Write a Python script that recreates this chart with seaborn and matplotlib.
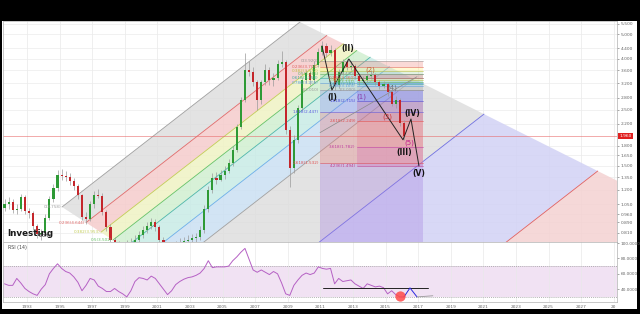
import numpy as np
import pandas as pd
import matplotlib
matplotlib.use("Agg")
import matplotlib.pyplot as plt
import matplotlib.transforms as mtransforms
from matplotlib.patches import Rectangle
from matplotlib.ticker import NullLocator
import seaborn as sns

# ---------------- data ----------------
START_YEAR = 1991.625          # first quarterly candle
PERIOD = 0.25                  # quarterly candles
first_open = 1.02
closes = [1.05, 1.07, 1.00, 1.01, 1.12, 0.99, 0.97, 0.86, 0.80, 0.81,
          0.93, 1.10, 1.22, 1.37, 1.36, 1.35, 1.30, 1.24, 1.14, 0.94,
          0.92, 1.05, 1.15, 1.13, 0.98, 0.85, 0.76, 0.72, 0.70, 0.71,
          0.73, 0.74, 0.76, 0.79, 0.83, 0.86, 0.89, 0.85, 0.76, 0.72,
          0.69, 0.70, 0.72, 0.74, 0.75, 0.76, 0.77, 0.78, 0.83, 1.01,
          1.20, 1.34, 1.32, 1.37, 1.43, 1.54, 1.73, 2.14, 2.74, 3.61,
          3.55, 3.23, 2.74, 3.23, 3.61, 3.29, 3.36, 3.81, 3.88, 2.08,
          1.47, 1.90, 2.55, 3.29, 3.52, 3.29, 3.78, 4.26, 4.50, 4.22,
          4.33, 3.14, 3.55, 3.88, 3.72, 3.75, 3.40, 3.25, 3.29, 3.40,
          3.44, 3.23, 3.11, 3.17, 2.94, 2.64, 2.74, 2.22, 1.96]
highs = [1.10, 1.12, 1.10, 1.05, 1.16, 1.15, 1.02, 0.99, 0.88, 0.84,
         0.96, 1.13, 1.27, 1.44, 1.45, 1.43, 1.40, 1.34, 1.27, 1.16,
         0.98, 1.08, 1.19, 1.21, 1.17, 1.00, 0.88, 0.78, 0.75, 0.74,
         0.76, 0.77, 0.79, 0.82, 0.86, 0.89, 0.93, 0.92, 0.87, 0.78,
         0.74, 0.73, 0.75, 0.77, 0.78, 0.79, 0.80, 0.81, 0.86, 1.04,
         1.24, 1.40, 1.42, 1.44, 1.49, 1.60, 1.79, 2.20, 2.82, 4.20,
         3.90, 3.70, 3.30, 3.30, 3.80, 3.70, 3.50, 3.95, 4.30, 3.95,
         2.15, 1.98, 2.62, 3.38, 3.62, 3.60, 3.90, 4.40, 4.70, 4.60,
         4.55, 4.40, 3.65, 3.98, 3.98, 3.90, 3.82, 3.48, 3.40, 3.48,
         3.60, 3.50, 3.30, 3.25, 3.22, 3.00, 2.85, 2.80, 2.28]
lows = [0.99, 1.01, 0.97, 0.96, 0.99, 0.96, 0.93, 0.83, 0.77, 0.76,
        0.79, 0.91, 1.07, 1.19, 1.31, 1.30, 1.26, 1.20, 1.10, 0.91,
        0.88, 0.90, 1.02, 1.11, 0.95, 0.82, 0.73, 0.69, 0.67, 0.68,
        0.69, 0.71, 0.72, 0.74, 0.77, 0.81, 0.84, 0.82, 0.74, 0.69,
        0.66, 0.67, 0.68, 0.70, 0.72, 0.73, 0.73, 0.74, 0.76, 0.81,
        0.98, 1.17, 1.27, 1.30, 1.33, 1.40, 1.50, 1.70, 2.10, 2.70,
        3.40, 3.10, 2.50, 2.65, 3.15, 3.15, 3.10, 3.30, 3.70, 2.00,
        1.23, 1.40, 1.85, 2.50, 3.20, 3.15, 3.20, 3.70, 4.15, 4.05,
        4.10, 3.00, 3.05, 3.45, 3.60, 3.62, 3.32, 3.15, 3.18, 3.22,
        3.32, 3.15, 3.02, 3.05, 2.85, 2.58, 2.55, 2.15, 1.90]
rsi_values = [47, 45, 45, 54, 48, 41, 37, 34, 32, 40,
              46, 60, 67, 73, 67, 63, 61, 56, 49, 38,
              45, 54, 52, 44, 41, 37, 37, 41, 37, 34,
              30, 38, 50, 55, 54, 52, 57, 54, 47, 40,
              33, 38, 46, 50, 53, 55, 56, 58, 61, 67,
              77, 68, 69, 69, 69, 70, 77, 82, 88, 93,
              79, 65, 62, 65, 62, 59, 63, 60, 48, 34,
              32, 45, 52, 58, 61, 59, 61, 69, 67, 66,
              67, 47, 54, 50, 51, 52, 47, 44, 41, 47,
              45, 43, 44, 42, 34, 38, 33, 30, 30]
last_price = 1.960
last_price_label = "1.960"

price_ticks = [5.5, 5.0, 4.4, 4.0, 3.6, 3.2, 2.8, 2.5, 2.2, 1.8, 1.65, 1.5,
               1.35, 1.2, 1.05, 0.96, 0.89, 0.81]
price_tick_labels = ["5.500", "5.000", "4.400", "4.000", "3.600", "3.200",
                     "2.800", "2.500", "2.200", "1.800", "1.650", "1.500",
                     "1.350", "1.200", "1.050", "0.960", "0.890", "0.810"]
year_ticks = [1993, 1995, 1997, 1999, 2001, 2003, 2005, 2007, 2009, 2011,
              2013, 2015, 2017, 2019, 2021, 2023, 2025, 2027, 2029]
year_tick_labels = ["1993", "1995", "1997", "1999", "2001", "2003", "2005",
                    "2007", "2009", "2011", "2013", "2015", "2017", "2019",
                    "2021", "2023", "2025", "2027", "20"]
rsi_ticks = [100, 80, 60, 40]
rsi_tick_labels = ["100.0000", "80.0000", "60.0000", "40.0000"]

# Fibonacci channel (anchors in year / price)
chan_anchor_start = (1995.15, 1.026)
chan_anchor_end = (2009.75, 5.60)
chan_width_years = 11.47
chan_start_edge_slope = -0.0422     # log10(price) per year
chan_end_edge_slope = -0.0325
chan_levels = [0, 0.236, 0.382, 0.5, 0.618, 0.786, 1, 1.618, 2.618, 3.618]
chan_fill_colors = ["#dedede", "#f5cccc", "#eff3c4", "#d0efd0", "#c8ebe6",
                    "#cbe0f3", "#dedede", "#d2d2f5", "#f4d2d2"]
chan_line_colors = ["#a0a0a0", "#e06a6a", "#c2cc55", "#66c266", "#4db6a8",
                    "#6aaee8", "#a0a0a0", "#6f6fe0", "#e06060", "#e06060"]
chan_labels = ["0(3.758)", "0.236(4.644)", "0.382(3.953)", "0.5(3.502)"]

# Fibonacci extension A
fibA_x = (2010.98, 2017.29)
fibA_levels = ["0", "0.236", "0.382", "0.5", "0.618", "0.786", "1", "1.618", "2.618", "3.618"]
fibA_prices = [3.920, 3.705, 3.572, 3.465, 3.358, 3.205, 3.010, 2.447, 1.532, 0.620]
fibA_fill = ["#f28b82", "#fff176", "#a5d6a7", "#80cbc4", "#90caf9", "#bdbdbd",
             "#8c8ce6", "#e57373", "#a27be0"]
fibA_line = ["#999999", "#e06060", "#c0c040", "#60b060", "#40a8a0", "#5a9ee0",
             "#999999", "#5c5ce0", "#e05050", "#9060d0"]

# Fibonacci extension B
fibB_x = (2013.25, 2017.29)
fibB_levels = ["0", "0.236", "0.382", "0.5", "0.618", "0.786", "1", "1.618", "2.618", "3.618", "4.236"]
fibB_prices = [3.470, 3.360, 3.292, 3.237, 3.181, 3.103, 3.000, 2.715, 2.249, 1.782, 1.494]
fibB_fill = ["#f28b82", "#fff176", "#a5d6a7", "#80cbc4", "#90caf9", "#bdbdbd",
             "#7e7ee6", "#c07aa8", "#e8889a", "#d878b0"]
fibB_line = ["#999999", "#e06060", "#c0c040", "#60b060", "#40a8a0", "#5a9ee0",
             "#999999", "#4a4ad8", "#e05050", "#c040a0", "#c04090"]

# Elliott wave count
wave_years = [2011.10, 2011.71, 2012.75, 2016.07, 2016.56, 2017.05]
wave_prices = [4.50, 3.00, 3.99, 1.90, 2.30, 1.494]
wave_labels = ["(I)", "(II)", "(III)", "(IV)", "(V)"]
wave_label_years = [2011.71, 2012.69, 2016.13, 2016.62, 2017.05]
wave_label_prices = [2.80, 4.38, 1.69, 2.41, 1.39]
sub_labels = ["(1)", "(2)", "(3)", "(4)", "(5)"]
sub_label_years = [2013.49, 2014.04, 2015.09, 2015.39, 2016.44]
sub_label_prices = [2.82, 3.60, 2.35, 3.07, 1.85]
sub_label_colors = ["#8a3fa8", "#c0603a", "#d03838", "#707070", "#c0208a"]
trend_years = [2010.98, 2016.93]
trend_prices = [2.03, 3.39]

# RSI annotations
rsi_support_years = [2011.16, 2017.60]
rsi_support_vals = [41.5, 41.5]
rsi_zig_years = [2016.13, 2016.50, 2016.93]
rsi_zig_vals = [30, 41.7, 30]
rsi_tail_years = [2016.93, 2017.90]
rsi_tail_vals = [30, 31.5]
rsi_circle = (2015.88, 31)

# ---------------- figure ----------------
sns.set_style("white")
plt.rcParams["font.family"] = ["DejaVu Sans"]

W, H = 640, 314
fig = plt.figure(figsize=(6.4, 3.14), dpi=100, facecolor="black")
fig.patches.append(Rectangle((2 / W, (H - 309) / H), 635 / W, 288 / H,
                             transform=fig.transFigure, facecolor="white",
                             edgecolor="none", zorder=-10))
ax = fig.add_axes([3 / W, (H - 242) / H, 614 / W, 221 / H])
ax2 = fig.add_axes([3 / W, (H - 302) / H, 614 / W, 60 / H], sharex=ax)

XMIN, XMAX = 1991.53, 2029.2
ax.set_yscale("log")
ax.set_xlim(XMIN, XMAX)
ax.set_ylim(0.744, 5.653)

# grid
for t in year_ticks:
    ax.axvline(t, color="#e9e9e9", lw=0.5, zorder=0.2)
    ax2.axvline(t, color="#e9e9e9", lw=0.5, zorder=0.2)
for p in price_ticks:
    ax.axhline(p, color="#ececec", lw=0.5, zorder=0.2)

# --- Fibonacci channel ---
t0, p0 = chan_anchor_start
t1, p1 = chan_anchor_end
L0, L1 = np.log10(p0), np.log10(p1)
s = (L1 - L0) / (t1 - t0)


def lvl_start(k):
    dt = s * chan_width_years * k / (s - chan_start_edge_slope)
    return t0 + dt, L0 + chan_start_edge_slope * dt


def lvl_end(k):
    dt = s * chan_width_years * k / (s - chan_end_edge_slope)
    return t1 + dt, L1 + chan_end_edge_slope * dt


for i in range(len(chan_levels) - 1):
    k1, k2 = chan_levels[i], chan_levels[i + 1]
    pts = [lvl_start(k1), lvl_end(k1), lvl_end(k2), lvl_start(k2)]
    xs = [q[0] for q in pts]
    ys = [10 ** q[1] for q in pts]
    ax.fill(xs, ys, color=chan_fill_colors[i], alpha=0.85, lw=0, zorder=0.5)
for i, k in enumerate(chan_levels):
    a, b = lvl_start(k), lvl_end(k)
    ax.plot([a[0], b[0]], [10 ** a[1], 10 ** b[1]], color=chan_line_colors[i],
            lw=0.6, zorder=0.8)
for i, lab in enumerate(chan_labels):
    a = lvl_start(chan_levels[i])
    ax.text(a[0] - 0.05, 10 ** a[1], lab, fontsize=3.0, color=chan_line_colors[i],
            ha="right", va="center", zorder=6)

# --- Fibonacci extension A ---
for i in range(len(fibA_prices) - 1):
    ax.fill_between(fibA_x, fibA_prices[i], fibA_prices[i + 1],
                    color=fibA_fill[i], alpha=0.32, lw=0, zorder=1)
for i, p in enumerate(fibA_prices):
    ax.plot(fibA_x, [p, p], color=fibA_line[i], lw=0.5, alpha=0.8, zorder=1.2)
    if i < len(fibA_prices) - 1:
        ax.text(fibA_x[0] - 0.08, p, f"{fibA_levels[i]}({p:.3f})", fontsize=3.0,
                color=fibA_line[i], ha="right", va="center", zorder=6)

# --- Fibonacci extension B ---
for i in range(len(fibB_prices) - 1):
    ax.fill_between(fibB_x, fibB_prices[i], fibB_prices[i + 1],
                    color=fibB_fill[i], alpha=0.38, lw=0, zorder=1.1)
for i, p in enumerate(fibB_prices):
    ax.plot(fibB_x, [p, p], color=fibB_line[i], lw=0.5, alpha=0.8, zorder=1.3)
    ax.text(fibB_x[0] - 0.08, p, f"{fibB_levels[i]}({p:.3f})", fontsize=3.0,
            color=fibB_line[i], ha="right", va="center", zorder=6)

# current price line
ax.axhline(last_price, color="#e86a6a", lw=0.5, alpha=0.8, zorder=2)

# --- candles ---
n = len(closes)
dates = START_YEAR + PERIOD * np.arange(n)
opens = [first_open] + closes[:-1]
bottoms = [min(o, c) for o, c in zip(opens, closes)]
heights = [abs(c - o) for o, c in zip(opens, closes)]
colors = ["#2e9a36" if c >= o else "#c4262b" for o, c in zip(opens, closes)]
ax.vlines(dates, lows, highs, color="#9a9a9a", lw=0.5, zorder=3)
ax.bar(dates, heights, bottom=bottoms, width=0.13, color=colors, lw=0, zorder=4)

# --- wave count ---
ax.plot(wave_years, wave_prices, color="#222222", lw=0.7, zorder=5)
ax.plot(trend_years, trend_prices, color="#8a8a8a", lw=0.5, zorder=2.5)
for lab, x, y in zip(wave_labels, wave_label_years, wave_label_prices):
    ax.text(x, y, lab, fontsize=5.5, fontweight="bold", color="#111111",
            ha="center", va="center", zorder=7)
for lab, x, y, c in zip(sub_labels, sub_label_years, sub_label_prices, sub_label_colors):
    ax.text(x, y, lab, fontsize=5, color=c, ha="center", va="center", zorder=7)

# watermark
ax.text(0.007, 0.018, "Investing", transform=ax.transAxes, fontsize=6.3,
        fontweight="bold", color="#1a1a1a", ha="left", va="bottom", zorder=8)
ax.text(0.058, 0.02, ".com", transform=ax.transAxes, fontsize=3.5,
        color="#333333", ha="left", va="bottom", zorder=8)

# axes styling (main)
ax.yaxis.tick_right()
ax.set_yticks(price_ticks)
ax.set_yticklabels(price_tick_labels)
ax.yaxis.set_minor_locator(NullLocator())
ax.tick_params(axis="y", labelsize=3.2, colors="#666666", length=1.5, pad=1,
               width=0.4)
ax.tick_params(axis="x", bottom=False, labelbottom=False)
for sp in ax.spines.values():
    sp.set_color("#b0b0b0")
    sp.set_linewidth(0.5)
ax.set_xlabel("")
ax.set_ylabel("")

tr = mtransforms.blended_transform_factory(ax.transAxes, ax.transData)
ax.text(1.004, last_price, last_price_label, transform=tr, fontsize=3.2,
        color="white", ha="left", va="center", zorder=9,
        bbox=dict(facecolor="#e02020", edgecolor="none", pad=0.7),
        clip_on=False)

# ---------------- RSI panel ----------------
ax2.set_ylim(23.4, 101.3)
ax2.axhspan(30, 70, color="#f1e2f3", lw=0, zorder=0.1)
ax2.axhline(70, color="#9a9a9a", lw=0.5, ls=(0, (1.5, 1.5)), zorder=0.5)
ax2.axhline(30, color="#9a9a9a", lw=0.5, ls=(0, (1.5, 1.5)), zorder=0.5)
df = pd.DataFrame({"year": dates, "rsi": rsi_values})
sns.lineplot(data=df, x="year", y="rsi", ax=ax2, color="#b560c4", lw=0.7,
             zorder=3)
ax2.plot(rsi_support_years, rsi_support_vals, color="#222222", lw=0.7, zorder=4)
ax2.plot(rsi_zig_years, rsi_zig_vals, color="#2a2ae0", lw=0.7, zorder=4)
ax2.plot(rsi_tail_years, rsi_tail_vals, color="#999999", lw=0.6, zorder=4)
ax2.scatter([rsi_circle[0]], [rsi_circle[1]], s=55, color="#ff4a4a", alpha=0.85,
            lw=0, zorder=5)
ax2.text(0.008, 0.9, "RSI (14)", transform=ax2.transAxes, fontsize=3.4,
         color="#444444", ha="left", va="center")

ax2.yaxis.tick_right()
ax2.set_yticks(rsi_ticks)
ax2.set_yticklabels(rsi_tick_labels)
ax2.set_xticks(year_ticks)
ax2.set_xticklabels(year_tick_labels)
ax2.set_xlim(XMIN, XMAX)
ax2.tick_params(axis="both", labelsize=3.1, colors="#666666", length=1.5,
                pad=1, width=0.4)
for sp in ax2.spines.values():
    sp.set_color("#b0b0b0")
    sp.set_linewidth(0.5)
ax2.set_xlabel("")
ax2.set_ylabel("")

fig.savefig("out.png", dpi=100, facecolor="black")
